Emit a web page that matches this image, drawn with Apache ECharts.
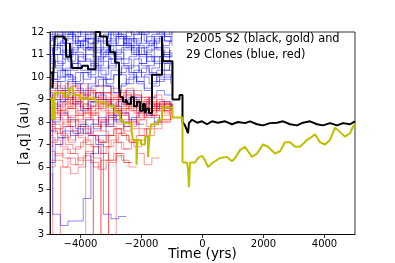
<!DOCTYPE html>
<html><head><meta charset="utf-8">
<script src="https://cdn.jsdelivr.net/npm/echarts@6/dist/echarts.min.js"></script>
<style>html,body{margin:0;padding:0;background:#fff}#c{width:395px;height:263px}</style>
</head><body><div id="c"></div>
<script>
// ---- data ----
const xTicks = [-4000, -2000, 0, 2000, 4000];
const yTicks = [3, 4, 5, 6, 7, 8, 9, 10, 11, 12];
// output times of the clone integrations (three staggered sets)
const cloneTimesA = [-5000,-4750,-4500,-4250,-4000,-3750,-3500,-3250,-3000,-2750,-2500,-2250,-2000,-1750,-1500,-1250,-1000];
const cloneTimesB = [-5000,-4830,-4580,-4330,-4080,-3830,-3580,-3330,-3080,-2830,-2580,-2330,-2080,-1830,-1580,-1330,-1080];
const cloneTimesC = [-5000,-4910,-4660,-4410,-4160,-3910,-3660,-3410,-3160,-2910,-2660,-2410,-2160,-1910,-1660,-1410,-1040];

// clone semi-major axes a (blue)
const blue01 = [11.2,11.5,11.0,11.8,12.3,12.1,11.6,11.9,12.4,12.2,11.7,11.5,11.9,12.3,12.0,11.6,11.8];
const blue02 = [10.8,10.5,11.2,11.0,10.7,11.3,11.6,11.1,10.8,11.2,11.5,11.0,10.6,10.9,11.3,11.0,10.7];
const blue03 = [11.6,12.2,12.5,11.9,11.4,11.7,12.2,12.6,12.1,11.8,12.3,12.5,12.0,11.6,11.9,12.2,12.4];
const blue04 = [10.2,10.0,10.4,10.6,10.3,10.1,10.5,10.9,10.6,10.2,10.4,10.8,10.5,10.1,10.3,10.6,10.4];
const blue05 = [11.9,11.4,11.1,11.5,11.8,11.3,10.9,11.2,11.6,11.9,11.4,11.1,11.5,11.8,11.3,11.0,11.2];
const blue06 = [9.6,9.9,10.3,10.0,9.7,10.2,10.6,10.3,9.9,10.1,10.5,10.2,9.8,10.1,10.4,10.7,10.5];
const blue07 = [12.4,12.0,11.7,12.1,12.5,12.2,11.8,11.5,11.9,12.3,12.0,11.7,12.1,12.4,12.1,11.8,12.0];
const blue08 = [10.6,11.0,10.8,10.4,10.9,11.3,11.1,10.7,10.4,10.8,11.2,11.4,11.0,10.7,10.9,11.1,10.8];
const blue09 = [11.3,11.0,11.6,11.9,11.5,11.2,11.5,11.8,11.4,11.0,11.3,11.7,11.4,11.1,11.5,11.8,11.5];
const blue10 = [9.9,10.3,10.1,9.8,10.2,10.0,9.6,9.9,10.3,10.1,9.7,10.0,10.4,10.2,9.8,10.0,10.2];
const blue11 = [12.1,11.8,12.3,12.0,11.6,11.9,12.4,12.1,11.7,11.4,11.8,12.2,11.9,11.5,11.8,12.1,11.9];
const blue12 = [10.9,11.3,11.0,10.7,11.1,10.8,10.5,10.9,11.2,10.9,10.6,10.9,11.3,11.0,10.7,10.9,11.2];
const blue13 = [11.7,11.4,11.8,12.2,11.9,11.5,11.2,11.6,12.0,11.7,11.3,11.6,12.0,12.3,11.9,11.6,11.4];
const blue14 = [10.4,10.7,10.3,10.6,11.0,10.7,10.4,10.1,10.5,10.8,10.5,10.2,10.6,10.9,10.6,10.3,10.5];
const blue15 = [9.3,9.0,9.4,9.8,9.5,9.2,9.6,9.9,9.6,9.3,9.7,10.0,9.7,9.4,9.6,9.9,9.7];
const blue16 = [11.0,10.6,10.9,11.3,11.6,11.2,10.8,11.1,11.5,11.8,11.4,11.0,11.3,11.6,11.2,10.9,11.1];
const blue17 = [12.6,12.2,11.9,12.3,12.0,12.4,12.1,11.8,12.2,12.5,12.2,11.9,12.3,12.0,12.3,12.5,12.2];
const blue18 = [10.1,9.8,9.5,9.9,10.2,9.9,10.3,10.0,9.7,10.1,10.4,10.1,9.8,9.5,9.8,10.1,9.9];
const blue19 = [8.6,8.9,9.2,8.8,8.5,8.9,9.3,9.0,8.7,9.0,9.4,9.1,8.8,9.1,9.4,9.2,null];
const blue20 = [11.4,11.8,11.5,11.1,11.4,11.7,11.3,11.0,11.4,11.8,11.5,11.2,10.9,11.2,11.6,11.3,11.0];
const blue21 = [8.1,3.9,3.4,3.6,3.6,4.6,6.6,7.4,7.9,8.3,8.0,null,null,null,null,null,null];
const blue22 = [7.6,7.3,7.8,7.5,7.9,7.4,7.0,3.9,3.7,3.8,null,null,null,null,null,null,null];
const blue23 = [6.2,7.0,7.6,7.4,7.8,8.1,7.7,8.0,8.3,8.0,7.8,8.2,8.5,8.3,8.0,null,null];
const blue24 = [9.1,8.7,9.0,9.3,8.9,8.6,8.9,9.2,8.8,8.5,8.8,9.1,8.7,8.4,8.7,8.9,8.6];
const blue25 = [11.8,12.3,12.0,11.6,11.3,11.7,12.1,12.5,12.2,11.9,11.6,11.9,12.3,12.6,12.2,11.9,12.1];
const blue26 = [10.7,10.4,10.0,10.3,10.7,11.0,10.7,10.4,10.8,11.1,10.8,10.5,10.2,10.5,10.9,10.6,10.3];
const blue27 = [8.3,8.0,8.4,8.1,7.7,7.5,7.9,8.2,7.8,8.1,8.4,8.1,7.9,null,null,null,null];
const blue28 = [9.5,9.8,10.1,9.7,9.4,9.7,10.0,9.6,9.3,9.6,9.9,10.3,10.0,9.7,10.0,10.3,10.0];
const blue29 = [12.2,11.9,11.5,11.2,11.6,12.0,11.7,11.3,11.0,11.4,11.7,11.3,11.0,11.4,11.7,11.4,11.6];

// clone perihelia q (red)
const red01 = [9.2,9.5,9.1,8.8,9.2,9.5,9.1,8.8,8.5,8.9,9.2,8.9,8.6,8.9,8.7,8.5,8.7];
const red02 = [8.7,8.4,8.8,9.1,8.7,8.4,8.7,9.0,8.7,8.3,8.6,8.9,8.6,8.3,8.6,8.8,8.5];
const red03 = [9.6,9.3,9.0,9.4,9.7,9.3,9.0,9.3,9.5,9.1,8.8,9.1,8.8,8.5,8.8,8.6,8.4];
const red04 = [8.2,8.5,8.9,8.6,8.3,8.6,8.9,8.5,8.2,8.5,8.8,8.5,8.2,8.5,8.8,8.5,8.3];
const red05 = [5.7,2.5,6.0,6.4,6.1,6.5,6.2,5.9,6.3,6.6,6.3,6.0,null,null,null,null,null];
const red06 = [7.1,7.3,7.0,6.8,7.1,7.4,7.2,6.9,7.2,7.5,7.2,6.9,7.2,null,null,null,null];
const red07 = [6.7,6.5,6.8,6.6,6.3,6.6,6.9,6.6,6.3,6.6,6.2,null,null,null,null,null,null];
const red08 = [8.9,9.2,8.9,8.6,8.9,9.2,8.9,8.6,8.9,9.1,8.8,8.5,8.8,9.0,8.7,8.5,8.6];
const red09 = [9.9,9.6,9.3,9.6,9.3,9.0,9.3,9.6,9.2,8.9,9.2,9.4,9.1,8.8,9.0,8.8,8.6];
const red10 = [8.0,7.7,8.0,8.3,8.0,2.5,7.6,7.9,8.2,7.9,7.6,7.9,8.1,7.8,8.0,8.3,null];
const red11 = [7.6,7.9,7.5,7.2,7.5,7.8,7.4,7.1,7.4,7.7,7.4,7.1,7.4,7.7,null,null,null];
const red12 = [9.4,9.1,9.4,9.0,8.7,9.0,9.3,9.0,8.7,9.0,8.7,8.4,8.7,8.9,8.6,8.4,8.6];
const red13 = [6.3,6.6,6.4,6.1,6.4,6.7,6.4,2.5,6.2,6.5,6.2,null,null,null,null,null,null];
const red14 = [8.5,8.8,8.5,8.2,8.5,8.8,8.4,8.1,8.4,8.7,8.4,8.1,8.4,8.6,8.3,8.1,8.4];
const red15 = [9.0,8.7,9.0,9.3,9.0,8.7,9.0,9.3,9.0,8.7,9.0,9.2,8.9,8.6,8.9,8.7,8.5];
const red16 = [7.3,7.0,7.3,7.6,7.3,7.0,2.5,7.1,7.4,7.1,6.8,7.1,null,null,null,null,null];
const red17 = [8.4,8.1,8.4,8.7,8.4,8.1,8.4,8.7,8.4,8.1,8.4,8.7,8.4,8.2,8.5,8.7,8.4];
const red18 = [9.7,9.4,9.7,9.4,9.1,9.4,9.6,9.3,9.0,9.3,9.5,9.2,8.9,9.1,8.8,8.6,8.8];
const red19 = [7.9,8.2,7.9,7.6,7.9,8.2,7.9,7.6,2.5,7.7,8.0,7.7,7.4,7.7,7.9,null,null];
const red20 = [6.9,7.2,6.9,6.6,6.9,7.2,6.9,6.6,6.9,7.1,6.8,null,null,null,null,null,null];
const red21 = [8.6,8.3,8.6,8.9,8.6,8.3,8.6,8.9,8.6,8.3,8.6,8.9,8.6,8.3,8.6,8.8,8.5];
const red22 = [9.3,9.0,9.3,9.6,9.3,9.0,9.3,9.0,8.7,9.0,9.3,9.0,8.7,9.0,9.2,8.9,8.7];
const red23 = [7.4,7.7,7.4,7.1,7.4,7.7,7.4,7.1,7.4,7.7,7.4,7.1,6.6,6.1,6.4,null,null];
const red24 = [8.8,8.5,8.8,9.1,8.8,8.5,8.8,9.1,8.8,8.5,8.8,9.0,8.7,8.4,8.7,8.9,8.6];
const red25 = [6.0,6.3,6.0,5.7,6.0,6.3,6.0,6.3,null,null,null,null,null,null,null,null,null];
const red26 = [8.1,8.4,8.1,7.8,8.1,8.4,8.1,7.8,8.1,8.4,8.1,7.8,8.1,8.4,8.2,8.0,8.3];
const red27 = [9.1,9.4,9.1,8.8,9.1,9.4,9.1,8.8,9.1,9.4,9.1,8.8,9.1,8.8,8.5,8.8,8.6];
const red28 = [7.8,7.5,7.8,8.1,7.8,7.5,7.8,8.1,7.8,7.5,7.8,8.0,7.7,7.4,7.7,8.0,null];
const red29 = [8.3,8.6,8.3,8.0,8.3,8.6,8.3,8.0,8.3,8.6,8.3,8.0,8.3,8.6,8.3,8.1,8.4];

// P2005 S2 nominal: a (black) and q (gold)
const blackTimesEarly = [-5000,-4918,-4885,-4852,-4541,-4475,-4344,-4279,-3951,-3754,-3508,-3361,-3131,-3033,-2869,-2738,-2689,-2607,-2508,-2443,-2344,-2246,-2148,-2049,-1951,-1885,-1820,-1754,-1656,-1328,-1295,-984,-754,-656];
const blackValuesEarly = [10.2,9.5,10.2,11.8,11.7,10.9,11.5,10.4,10.5,10.35,12.0,11.8,11.4,11.1,10.65,9.6,9.1,8.9,9.0,8.8,9.1,8.7,8.9,8.5,8.8,8.4,8.6,8.4,10.1,11.8,10.7,9.0,9.2,8.0];
const blackTimesLate = [-656,-574,-475,-443,-344,-180,-16,148,311,508,738,967,1164,1393,1557,1787,1984,2213,2443,2639,2869,3098,3295,3525,3754,3951,4180,4410,4607,4836,5000];
const blackValuesLate = [8.0,7.85,7.5,7.95,8.1,7.97,8.03,7.9,8.03,7.97,8.03,7.9,8.0,7.95,8.03,7.9,7.85,7.95,7.97,8.03,7.9,7.85,7.97,8.03,7.9,7.85,7.95,7.85,7.95,7.9,8.03];
const goldTimesEarly = [-5000,-4918,-4852,-4541,-4377,-4246,-4016,-3508,-3361,-3131,-2869,-2705,-2607,-2328,-2279,-2164,-2131,-2016,-1885,-1787,-1738,-1689,-1459,-1328,-984,-656];
const goldValuesEarly = [9.05,8.15,9.3,9.15,9.5,9.2,9.05,8.9,8.85,8.7,8.45,8.1,7.95,7.65,7.2,6.1,7.2,7.0,7.35,6.45,7.35,7.9,8.1,8.65,8.2,6.2];
const goldTimesLate = [-656,-508,-475,-443,-410,-246,-148,-16,82,180,344,574,803,967,1066,1230,1393,1492,1623,1787,1984,2148,2377,2541,2705,2869,3033,3197,3426,3590,3689,3852,4016,4180,4344,4508,4672,4836,4934,5000];
const goldValuesLate = [6.2,6.2,5.9,5.1,6.2,6.2,6.4,6.5,6.3,6.0,6.2,6.4,6.45,6.25,6.4,6.75,6.9,6.7,6.45,6.6,7.0,6.9,6.6,6.7,7.1,7.1,6.9,6.9,7.2,7.35,7.45,7.1,7.0,7.2,7.75,7.55,7.35,7.5,7.8,7.9];

const titleLines = ['P2005 S2 (black, gold) and', '29 Clones (blue, red)'];

// ---- chart ----
const blueList = [blue01,blue02,blue03,blue04,blue05,blue06,blue07,blue08,blue09,blue10,blue11,blue12,blue13,blue14,blue15,blue16,blue17,blue18,blue19,blue20,blue21,blue22,blue23,blue24,blue25,blue26,blue27,blue28,blue29];
const redList = [red01,red02,red03,red04,red05,red06,red07,red08,red09,red10,red11,red12,red13,red14,red15,red16,red17,red18,red19,red20,red21,red22,red23,red24,red25,red26,red27,red28,red29];
const timeSets = [cloneTimesA, cloneTimesB, cloneTimesC];
const FONT = 'DejaVu Sans';
const pairs = (ts, vs) => ts.map((t, i) => [t, vs[i]]);
function lineSeries(data, color, width, opacity, step) {
  return { type: 'line', data, step: step ? 'end' : false, symbol: 'none', showSymbol: false,
    silent: true, clip: true, connectNulls: false,
    lineStyle: { color, width, opacity }, emphasis: { disabled: true } };
}
const series = [];
for (let i = 0; i < 29; i++) {
  series.push(lineSeries(pairs(timeSets[i % 3], blueList[i]), '#0000ff', 1, 0.45, true));
  series.push(lineSeries(pairs(timeSets[(i + 1) % 3], redList[i]), '#ff0000', 1, 0.4, true));
}
series.push(lineSeries(pairs(blackTimesEarly, blackValuesEarly), '#000000', 2, 1, true));
series.push(lineSeries(pairs(blackTimesLate, blackValuesLate), '#000000', 2, 1, false));
series.push(lineSeries(pairs(goldTimesEarly, goldValuesEarly), '#bfbf00', 2, 1, true));
series.push(lineSeries(pairs(goldTimesLate, goldValuesLate), '#bfbf00', 2, 1, false));

const fmt = v => (v < 0 ? '\u2212' + Math.abs(v) : String(v));
const chart = echarts.init(document.getElementById('c'), null, { renderer: 'canvas' });
chart.setOption({
  animation: false,
  backgroundColor: '#ffffff',
  textStyle: { fontFamily: FONT },
  grid: { left: 50, right: 40, top: 32, bottom: 28.5, show: true, borderColor: '#000', borderWidth: 0.8,
    containLabel: false, outerBoundsMode: 'none' },
  xAxis: {
    type: 'value', min: -5000, max: 5000,
    name: 'Time (yrs)', nameLocation: 'middle', nameGap: 12.5, nameMoveOverlap: false,
    nameTextStyle: { fontFamily: FONT, fontSize: 13.5, color: '#000' },
    axisLine: { show: true, onZero: false, lineStyle: { color: '#000', width: 0.8 } },
    axisTick: { show: true, inside: false, length: 3.5, lineStyle: { color: '#000', width: 0.8 }, customValues: xTicks },
    axisLabel: { fontFamily: FONT, fontSize: 10, color: '#000', margin: 5, customValues: xTicks, formatter: fmt },
    splitLine: { show: false }
  },
  yAxis: {
    type: 'value', min: 3, max: 12, interval: 1,
    name: '[a,q] (au)', nameLocation: 'middle', nameGap: 19, nameMoveOverlap: false,
    nameTextStyle: { fontFamily: FONT, fontSize: 13.5, color: '#000' },
    axisLine: { show: true, onZero: false, lineStyle: { color: '#000', width: 0.8 } },
    axisTick: { show: true, inside: false, length: 3.5, lineStyle: { color: '#000', width: 0.8 }, customValues: yTicks },
    axisLabel: { fontFamily: FONT, fontSize: 10, color: '#000', margin: 6, customValues: yTicks },
    splitLine: { show: false }
  },
  graphic: [{
    type: 'text', left: 186, top: 31.5, silent: true, z: 100,
    style: { text: titleLines.join('\n'), fontFamily: FONT, fontSize: 11.4, lineHeight: 16, fill: '#000' }
  }],
  series
});
</script>
</body></html>
